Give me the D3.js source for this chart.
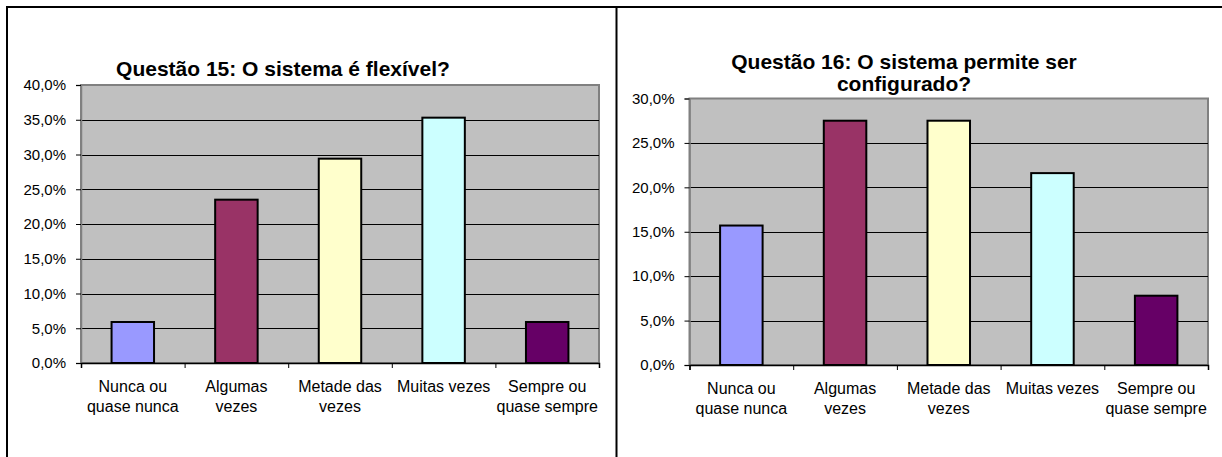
<!DOCTYPE html>
<html>
<head>
<meta charset="utf-8">
<script src="https://cdn.jsdelivr.net/npm/d3@7"></script>
<style>
  html, body { margin: 0; padding: 0; background: #fff; }
  svg { display: block; }
  text { font-family: "Liberation Sans", Arial, sans-serif; }
</style>
</head>
<body>
<script>
// categorias (eixo x), iguais nos dois gráficos
var categories = ["Nunca ou\nquase nunca", "Algumas\nvezes", "Metade das\nvezes", "Muitas vezes", "Sempre ou\nquase sempre"];
var barColors = ["#9999FF", "#993366", "#FFFFCC", "#CCFFFF", "#660066"];

// Questão 15
var q15Title = ["Questão 15: O sistema é flexível?"];
var q15Values = [0.059, 0.235, 0.294, 0.353, 0.059];
var q15Ticks = [0, 0.05, 0.10, 0.15, 0.20, 0.25, 0.30, 0.35, 0.40];

// Questão 16
var q16Title = ["Questão 16: O sistema permite ser", "configurado?"];
var q16Values = [0.157, 0.275, 0.275, 0.216, 0.078];
var q16Ticks = [0, 0.05, 0.10, 0.15, 0.20, 0.25, 0.30];

var width = 1222, height = 457;
var pt = d3.formatLocale({decimal: ",", thousands: ".", grouping: [3], currency: ["R$", ""]});
var fmt = pt.format(".1%");

var svg = d3.select("body").append("svg")
    .attr("width", width)
    .attr("height", height);

// bordas da tabela
svg.append("line").attr("x1", 6).attr("x2", width).attr("y1", 7).attr("y2", 7)
    .attr("stroke", "#000").attr("stroke-width", 2);
svg.append("line").attr("x1", 7).attr("x2", 7).attr("y1", 6).attr("y2", height)
    .attr("stroke", "#000").attr("stroke-width", 2);
svg.append("line").attr("x1", 616.5).attr("x2", 616.5).attr("y1", 6).attr("y2", height)
    .attr("stroke", "#000").attr("stroke-width", 2);

function drawChart(cfg) {
    var g = svg.append("g");
    var x = d3.scaleBand()
        .domain(d3.range(categories.length))
        .range([cfg.left, cfg.right])
        .paddingInner(0.59)
        .paddingOuter(0.295);
    var xEdge = d3.scaleLinear().domain([0, categories.length]).range([cfg.left, cfg.right]);
    var y = d3.scaleLinear()
        .domain([0, d3.max(cfg.ticks)])
        .range([cfg.bottom, cfg.top]);

    // área de plotagem
    g.append("rect")
        .attr("x", cfg.left).attr("y", cfg.top)
        .attr("width", cfg.right - cfg.left).attr("height", cfg.bottom - cfg.top)
        .attr("fill", "#C0C0C0")
        .attr("stroke", "#808080").attr("stroke-width", 2);

    // linhas de grade
    g.append("g").selectAll("line")
        .data(cfg.ticks.slice(1, -1))
        .enter().append("line")
        .attr("x1", cfg.left).attr("x2", cfg.right)
        .attr("y1", d => Math.round(y(d)) + 0.5).attr("y2", d => Math.round(y(d)) + 0.5)
        .attr("stroke", "#000").attr("stroke-width", 1);

    // barras
    g.append("g").selectAll("rect")
        .data(cfg.values)
        .enter().append("rect")
        .attr("x", (d, i) => x(i))
        .attr("y", d => y(d))
        .attr("width", x.bandwidth())
        .attr("height", d => cfg.bottom - y(d))
        .attr("fill", (d, i) => barColors[i])
        .attr("stroke", "#000")
        .attr("stroke-width", 2);

    // eixo y
    var yAxis = g.append("g")
        .attr("transform", `translate(${cfg.left},0)`)
        .call(d3.axisLeft(y).tickValues(cfg.ticks).tickSize(5).tickPadding(10).tickFormat(fmt));
    yAxis.select(".domain").attr("stroke", "#808080").attr("stroke-width", 1.5);
    yAxis.selectAll(".tick line").attr("stroke", "#000");
    yAxis.selectAll("text")
        .attr("font-family", "Liberation Sans, Arial, sans-serif")
        .attr("font-size", 15)
        .attr("fill", "#000");

    // eixo x (marcas nas divisões)
    var xAxis = g.append("g")
        .attr("transform", `translate(0,${cfg.bottom})`)
        .call(d3.axisBottom(xEdge).tickValues(d3.range(categories.length + 1)).tickSize(5).tickFormat(""));
    xAxis.select(".domain").attr("stroke", "#000").attr("stroke-width", 1.5);
    xAxis.selectAll(".tick line").attr("stroke", "#000");

    // rótulos das categorias
    var labels = g.append("g").selectAll("text")
        .data(categories)
        .enter().append("text")
        .attr("x", (d, i) => x(i) + x.bandwidth() / 2)
        .attr("y", cfg.bottom + 29)
        .attr("text-anchor", "middle")
        .attr("font-size", 16)
        .attr("fill", "#000");
    labels.selectAll("tspan")
        .data(d => d.split("\n"))
        .enter().append("tspan")
        .attr("x", function () { return d3.select(this.parentNode).attr("x"); })
        .attr("dy", (d, i) => i ? 20 : 0)
        .text(d => d);

    // título
    g.append("text")
        .attr("x", cfg.titleX)
        .attr("y", cfg.titleY)
        .attr("text-anchor", "middle")
        .attr("font-size", 21)
        .attr("font-weight", "bold")
        .attr("fill", "#000")
        .selectAll("tspan")
        .data(cfg.title)
        .enter().append("tspan")
        .attr("x", cfg.titleX)
        .attr("dy", (d, i) => i ? 22 : 0)
        .text(d => d);
}

drawChart({
    left: 81, right: 599, top: 85, bottom: 363,
    values: q15Values, ticks: q15Ticks,
    title: q15Title, titleX: 283, titleY: 76
});

drawChart({
    left: 689.5, right: 1208, top: 98.5, bottom: 365,
    values: q16Values, ticks: q16Ticks,
    title: q16Title, titleX: 904, titleY: 69
});
</script>
</body>
</html>
